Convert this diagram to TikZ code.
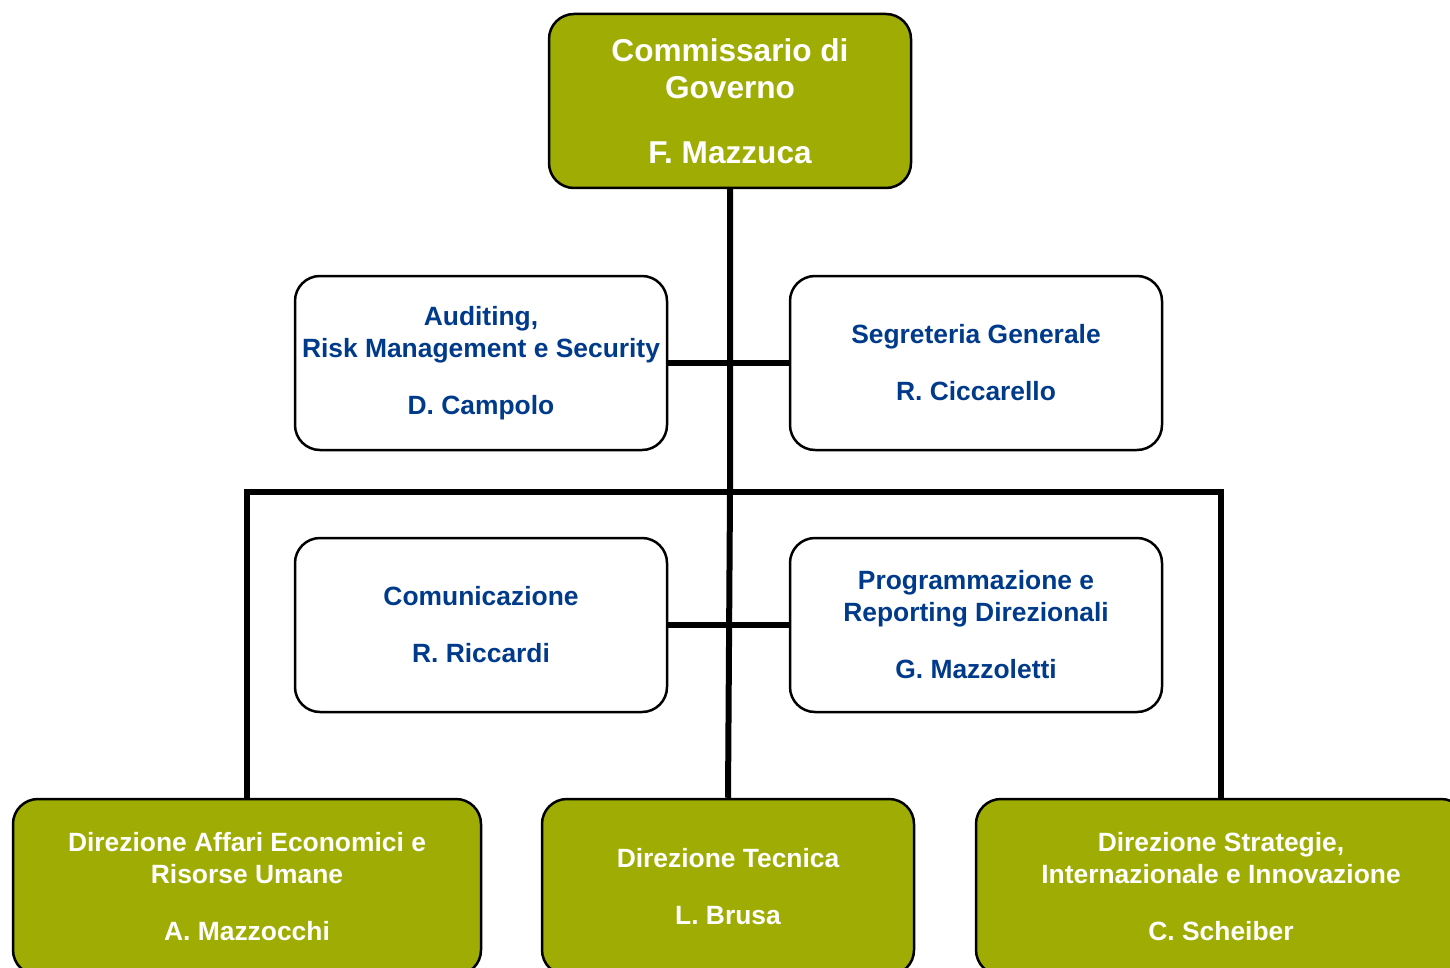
\documentclass[tikz,border=0pt]{standalone}
\usepackage{fontspec}
\setmainfont{Liberation Sans}
\definecolor{olive}{RGB}{159,172,3}
\definecolor{navy}{RGB}{0,58,138}
\begin{document}
\begin{tikzpicture}[x=1pt,y=-1pt,
  box/.style={draw=black,line width=2.5pt,rounded corners=25pt,inner sep=0pt,align=center,font=\bfseries\fontsize{26.4}{32}\selectfont},
  green/.style={box,fill=olive,text=white},
  white/.style={box,fill=white,text=navy},
  link/.style={line width=6pt}]
\useasboundingbox (0,0) rectangle (1450,968);
\coordinate (bus) at (729,492);
\node[green,minimum width=362pt,minimum height=174pt,font=\bfseries\fontsize{31.6}{37}\selectfont] (top) at (730,101) {Commissario di\\Governo\\[28pt]F. Mazzuca};
\node[white,minimum width=372pt,minimum height=174pt] (aud) at (481,363) {Auditing,\\Risk Management e Security\\[25pt]D. Campolo};
\node[white,minimum width=372pt,minimum height=174pt] (seg) at (976,363) {Segreteria Generale\\[25pt]R. Ciccarello};
\node[white,minimum width=372pt,minimum height=174pt] (com) at (481,625) {Comunicazione\\[25pt]R. Riccardi};
\node[white,minimum width=372pt,minimum height=174pt] (prog) at (976,625) {Programmazione e\\Reporting Direzionali\\[25pt]G. Mazzoletti};
\node[green,minimum width=468pt,minimum height=176pt] (dae) at (247,887) {Direzione Affari Economici e\\Risorse Umane\\[25pt]A. Mazzocchi};
\node[green,minimum width=372pt,minimum height=176pt] (tec) at (728,887) {Direzione Tecnica\\[25pt]L. Brusa};
\node[green,minimum width=490pt,minimum height=176pt] (dsi) at (1221,887) {Direzione Strategie,\\Internazionale e Innovazione\\[25pt]C. Scheiber};
\draw[link] (top.south) -- (top.south |- bus) -- (tec.north);
\draw[link] (aud.east) -- (seg.west);
\draw[link] (com.east) -- (prog.west);
\draw[link] (dae.north) -- (dae.north |- bus) -- (dsi.north |- bus) -- (dsi.north);
\end{tikzpicture}
\end{document}
